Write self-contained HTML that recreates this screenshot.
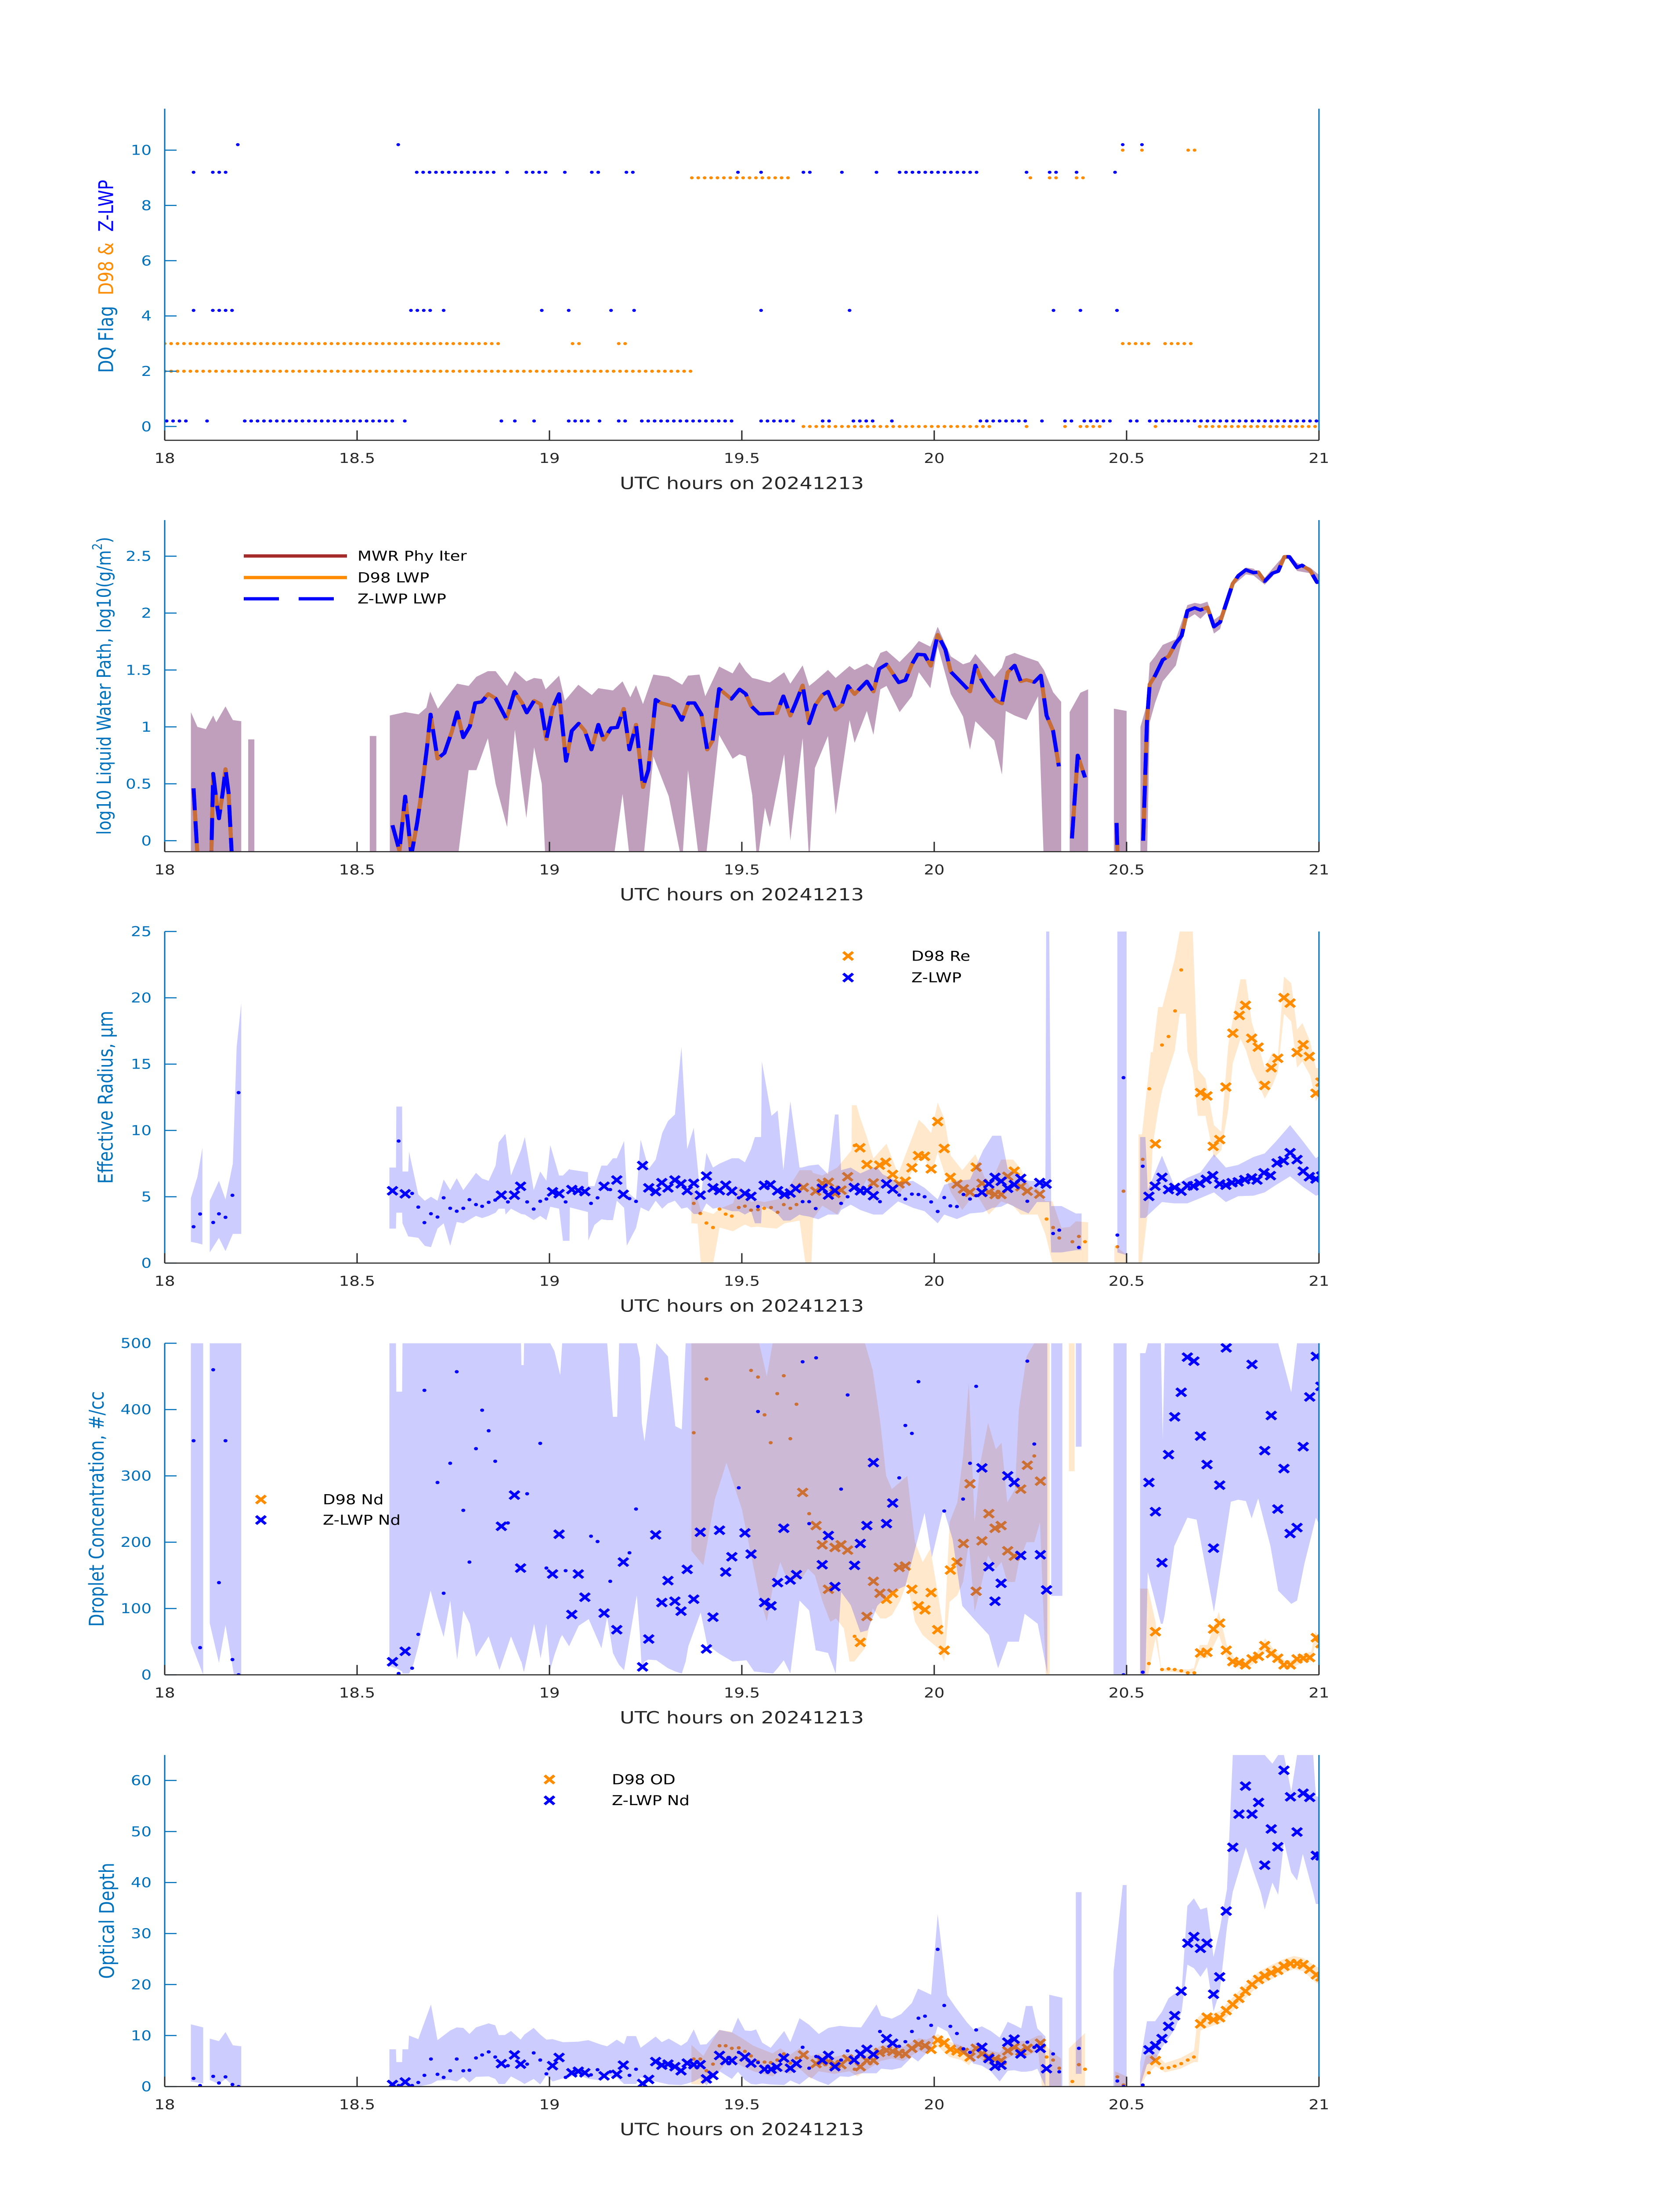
<!DOCTYPE html>
<html>
<head>
<meta charset="utf-8">
<style>
html,body{margin:0;padding:0;background:#fff;width:100%;height:100%;overflow:hidden}
svg{display:block;position:absolute;left:0;top:0;width:100vw;height:100vh}
text{font-family:"DejaVu Sans","Liberation Sans",sans-serif}
</style>
</head>
<body>
<svg id="chart" xmlns="http://www.w3.org/2000/svg" viewBox="0 0 3825 6000" preserveAspectRatio="none">
<rect width="3825" height="6000" fill="#ffffff"/>
<defs>
<clipPath id="clip0"><rect x="375" y="297" width="2628" height="906"/></clipPath>
<clipPath id="clip1"><rect x="375" y="1421" width="2628" height="906"/></clipPath>
<clipPath id="clip2"><rect x="375" y="2545" width="2628" height="906"/></clipPath>
<clipPath id="clip3"><rect x="375" y="3670" width="2628" height="906"/></clipPath>
<clipPath id="clip4"><rect x="375" y="4795" width="2628" height="906"/></clipPath>
</defs>
<g id="plots"></g>

<text x="241" y="755" transform="rotate(-90 241 755)" text-anchor="middle" dominant-baseline="central" font-size="46"><tspan fill="#0072bd">DQ Flag&#160;&#160;</tspan><tspan fill="#ff8c00">D98 &amp;&#160;&#160;</tspan><tspan fill="#0000ff">Z-LWP</tspan></text>
<text x="237" y="1874" transform="rotate(-90 237 1874)" text-anchor="middle" dominant-baseline="central" font-size="44" fill="#0072bd">log10 Liquid Water Path, log10(g/m<tspan font-size="30" dy="-16">2</tspan><tspan dy="16">)</tspan></text>
<text x="241" y="2998" transform="rotate(-90 241 2998)" text-anchor="middle" dominant-baseline="central" font-size="46" fill="#0072bd">Effective Radius, μm</text>
<text x="220" y="4123" transform="rotate(-90 220 4123)" text-anchor="middle" dominant-baseline="central" font-size="46" fill="#0072bd">Droplet Concentration, #/cc</text>
<text x="244" y="5248" transform="rotate(-90 244 5248)" text-anchor="middle" dominant-baseline="central" font-size="46" fill="#0072bd">Optical Depth</text>

<text x="1689" y="1336" text-anchor="middle" font-size="46" fill="#262626">UTC hours on 20241213</text>
<text x="1689" y="2460" text-anchor="middle" font-size="46" fill="#262626">UTC hours on 20241213</text>
<text x="1689" y="3584" text-anchor="middle" font-size="46" fill="#262626">UTC hours on 20241213</text>
<text x="1689" y="4709" text-anchor="middle" font-size="46" fill="#262626">UTC hours on 20241213</text>
<text x="1689" y="5834" text-anchor="middle" font-size="46" fill="#262626">UTC hours on 20241213</text>

<g>
<line x1="555" y1="1519" x2="790" y2="1519" stroke="#a52a2a" stroke-width="9"/>
<text x="814" y="1532" font-size="37" fill="#000">MWR Phy Iter</text>
<line x1="555" y1="1578" x2="790" y2="1578" stroke="#ff8c00" stroke-width="9"/>
<text x="814" y="1591" font-size="37" fill="#000">D98 LWP</text>
<line x1="555" y1="1636" x2="790" y2="1636" stroke="#0000ff" stroke-width="9" stroke-dasharray="80 45"/>
<text x="814" y="1649" font-size="37" fill="#000">Z-LWP LWP</text>
</g>
<g>
<path d="M1920,2601L1942,2623M1920,2623L1942,2601" stroke="#ff8c00" stroke-width="7"/>
<text x="2075" y="2625" font-size="37" fill="#000">D98 Re</text>
<path d="M1920,2660L1942,2682M1920,2682L1942,2660" stroke="#0000ff" stroke-width="7"/>
<text x="2075" y="2684" font-size="37" fill="#000">Z-LWP</text>
</g>
<g>
<path d="M583,4086L605,4108M583,4108L605,4086" stroke="#ff8c00" stroke-width="7"/>
<text x="735" y="4110" font-size="37" fill="#000">D98 Nd</text>
<path d="M583,4142L605,4164M583,4164L605,4142" stroke="#0000ff" stroke-width="7"/>
<text x="735" y="4166" font-size="37" fill="#000">Z-LWP Nd</text>
</g>
<g>
<path d="M1240,4851L1262,4873M1240,4873L1262,4851" stroke="#ff8c00" stroke-width="7"/>
<text x="1393" y="4875" font-size="37" fill="#000">D98 OD</text>
<path d="M1240,4908L1262,4930M1240,4930L1262,4908" stroke="#0000ff" stroke-width="7"/>
<text x="1393" y="4932" font-size="37" fill="#000">Z-LWP Nd</text>
</g>
<g id="axes"></g>
</svg>

<script>
const xTickValues = [18, 18.5, 19, 19.5, 20, 20.5, 21];
const xTickLabels = ['18', '18.5', '19', '19.5', '20', '20.5', '21'];
const dqTickValues = [0, 2, 4, 6, 8, 10];
const dqTickLabels = ['0', '2', '4', '6', '8', '10'];
const lwpTickValues = [0, 0.5, 1, 1.5, 2, 2.5];
const lwpTickLabels = ['0', '0.5', '1', '1.5', '2', '2.5'];
const reTickValues = [0, 5, 10, 15, 20, 25];
const reTickLabels = ['0', '5', '10', '15', '20', '25'];
const ndTickValues = [0, 100, 200, 300, 400, 500];
const ndTickLabels = ['0', '100', '200', '300', '400', '500'];
const odTickValues = [0, 10, 20, 30, 40, 50, 60];
const odTickLabels = ['0', '10', '20', '30', '40', '50', '60'];

const zlwpFlagRunStart = [18.005,18.11,18.208,18.624,18.875,18.91,18.96,19.05,19.13,19.18,19.24,19.55,19.71,19.79,19.89,20.12,20.28,20.34,20.39,20.51,20.56,
  18.075,18.125,18.64,18.725,18.98,19.05,19.16,19.22,19.55,19.78,20.31,20.38,20.475,
  18.075,18.125,18.655,18.89,18.94,19.04,19.11,19.2,19.49,19.55,19.66,19.76,19.85,19.91,20.24,20.3,20.37,20.47,
  18.19,18.607,20.49,20.54];
const zlwpFlagRunEnd = [18.055,18.11,18.592,18.624,18.875,18.925,18.97,19.10,19.14,19.20,19.48,19.64,19.74,19.84,19.90,20.24,20.28,20.36,20.46,20.53,21.0,
  18.09,18.19,18.69,18.725,18.99,19.05,19.16,19.22,19.55,19.78,20.325,20.38,20.49,
  18.09,18.16,18.86,18.89,19.0,19.04,19.13,19.23,19.49,19.55,19.69,19.77,19.85,20.11,20.25,20.33,20.37,20.47,
  18.19,18.607,20.49,20.54];
const zlwpFlagRunValue = [0,0,0,0,0,0,0,0,0,0,0,0,0,0,0,0,0,0,0,0,0,
  4,4,4,4,4,4,4,4,4,4,4,4,4,
  9,9,9,9,9,9,9,9,9,9,9,9,9,9,9,9,9,9,
  10,10,10,10];
const d98FlagRunStart = [18.0,19.06,19.18,20.49,20.60, 18.0, 19.37,20.25,20.30,20.37, 20.49,20.54,20.66, 19.66,20.24,20.34,20.38,20.575,20.69];
const d98FlagRunEnd   = [18.88,19.09,19.21,20.57,20.67, 19.37, 19.63,20.25,20.33,20.40, 20.49,20.54,20.68, 20.15,20.24,20.34,20.43,20.575,21.0];
const d98FlagRunValue = [3,3,3,3,3, 2, 9,9,9,9, 10,10,10, 0,0,0,0,0,0];

const lwpSeries = [
 [18.075,0.46],[18.088,-0.3],[18.12,-0.3],[18.126,0.59],[18.134,0.36],[18.141,0.195],[18.151,0.43],[18.158,0.63],[18.166,0.42],[18.177,-0.3],null,
 [18.592,0.136],[18.610,-0.088],[18.625,0.39],[18.641,-0.127],[18.656,0.156],[18.666,0.39],[18.681,0.80],[18.691,1.11],[18.709,0.72],[18.727,0.77],[18.746,0.956],[18.760,1.13],[18.776,0.907],[18.793,1.004],[18.807,1.21],[18.824,1.22],[18.841,1.29],[18.860,1.25],[18.888,1.07],[18.909,1.31],[18.929,1.21],[18.941,1.125],[18.960,1.23],[18.977,1.20],[18.992,0.89],[19.008,1.16],[19.025,1.29],[19.043,0.70],[19.058,0.965],[19.076,1.03],[19.092,0.965],[19.109,0.80],[19.127,1.02],[19.141,0.885],[19.160,0.99],[19.176,0.995],[19.193,1.16],[19.208,0.80],[19.225,1.02],[19.243,0.47],[19.257,0.62],[19.276,1.24],[19.290,1.21],[19.324,1.18],[19.344,1.06],[19.361,1.21],[19.377,1.21],[19.395,1.11],[19.410,0.80],[19.424,0.88],[19.441,1.335],[19.473,1.245],[19.494,1.33],[19.510,1.29],[19.524,1.185],[19.545,1.115],[19.591,1.12],[19.608,1.27],[19.626,1.098],[19.640,1.21],[19.658,1.365],[19.675,1.03],[19.691,1.19],[19.709,1.28],[19.724,1.31],[19.744,1.15],[19.760,1.193],[19.776,1.36],[19.793,1.287],[19.825,1.40],[19.842,1.31],[19.857,1.51],[19.876,1.55],[19.908,1.39],[19.925,1.41],[19.942,1.55],[19.957,1.637],[19.975,1.633],[19.991,1.536],[20.009,1.81],[20.029,1.68],[20.043,1.485],[20.075,1.374],[20.093,1.31],[20.107,1.54],[20.122,1.42],[20.140,1.325],[20.161,1.23],[20.176,1.205],[20.191,1.48],[20.209,1.54],[20.225,1.40],[20.240,1.413],[20.260,1.393],[20.277,1.452],[20.292,1.10],[20.309,0.965],[20.324,0.653],null,
 [20.358,0.02],[20.373,0.75],[20.392,0.556],null,
 [20.474,0.156],[20.478,-0.3],null,
 [20.543,0.0],[20.553,1.05],[20.560,1.374],[20.574,1.45],[20.594,1.589],[20.609,1.62],[20.628,1.735],[20.643,1.80],[20.658,2.02],[20.677,2.046],[20.692,2.027],[20.710,2.05],[20.727,1.88],[20.743,1.92],[20.759,2.086],[20.776,2.26],[20.791,2.33],[20.810,2.38],[20.830,2.355],[20.842,2.36],[20.859,2.28],[20.879,2.35],[20.894,2.368],[20.910,2.495],[20.923,2.495],[20.943,2.40],[20.956,2.42],[20.977,2.374],[20.995,2.27],[21.009,2.285]
];
const lwpBand = [
 [18.068,1.13,-0.2],[18.085,1.00,-0.2],[18.107,0.98,-0.2],[18.126,1.10,-0.2],[18.134,1.04,-0.2],[18.158,1.18,-0.2],[18.177,1.06,-0.2],[18.199,1.05,-0.2],null,
 [18.217,0.89,-0.2],[18.233,0.89,-0.2],null,
 [18.533,0.92,-0.2],[18.55,0.92,-0.2],null,
 [18.585,1.10,-0.2],[18.625,1.13,-0.2],[18.66,1.11,-0.2],[18.68,1.17,-0.2],[18.69,1.31,-0.2],[18.71,1.16,-0.2],[18.73,1.25,-0.2],[18.76,1.38,-0.2],[18.79,1.36,0.62],[18.81,1.44,0.62],[18.84,1.49,0.90],[18.86,1.49,0.50],[18.89,1.36,0.12],[18.91,1.49,0.975],[18.94,1.40,0.2],[18.96,1.43,0.82],[18.98,1.42,0.5],[18.99,1.33,-0.2],[19.025,1.45,-0.2],[19.04,1.23,-0.2],[19.075,1.37,-0.2],[19.11,1.28,-0.2],[19.127,1.34,-0.2],[19.165,1.32,-0.2],[19.19,1.40,0.41],[19.21,1.26,-0.2],[19.225,1.365,-0.2],[19.243,1.20,-0.2],[19.27,1.46,0.74],[19.31,1.44,0.39],[19.345,1.37,-0.2],[19.36,1.45,0.62],[19.39,1.46,-0.2],[19.405,1.27,-0.2],[19.441,1.53,0.93],[19.476,1.47,0.72],[19.494,1.57,0.76],[19.51,1.49,0.74],[19.527,1.43,0.4],[19.54,1.42,-0.2],[19.56,1.40,0.29],[19.573,1.39,0.12],[19.61,1.48,0.76],[19.626,1.38,0.0],[19.658,1.54,0.9],[19.675,1.36,-0.2],[19.69,1.40,0.64],[19.724,1.50,0.92],[19.744,1.43,0.23],[19.78,1.535,1.06],[19.793,1.50,0.86],[19.825,1.555,1.14],[19.842,1.52,0.93],[19.86,1.65,1.33],[19.876,1.67,1.36],[19.91,1.57,1.13],[19.942,1.68,1.27],[19.96,1.755,1.48],[19.99,1.705,1.34],[20.009,1.88,1.71],[20.043,1.62,1.29],[20.075,1.55,1.09],[20.093,1.57,0.8],[20.107,1.64,1.05],[20.156,1.44,0.88],[20.176,1.52,0.58],[20.186,1.62,1.14],[20.209,1.65,1.10],[20.24,1.61,1.06],[20.27,1.575,1.27],[20.285,1.50,-0.2],[20.309,1.305,-0.2],[20.33,1.22,-0.2],null,
 [20.352,1.13,-0.2],[20.38,1.30,-0.2],[20.40,1.33,-0.2],null,
 [20.467,1.16,-0.2],[20.50,1.14,-0.2],null,
 [20.536,1.0,-0.2],[20.553,1.2,-0.2],[20.560,1.56,1.04],[20.574,1.62,1.21],[20.594,1.72,1.40],[20.628,1.77,1.54],[20.658,2.07,1.95],[20.677,2.09,1.99],[20.692,2.08,1.95],[20.710,2.10,2.01],[20.727,1.94,1.82],[20.743,1.98,1.86],[20.759,2.10,2.07],[20.776,2.28,2.24],[20.810,2.40,2.34],[20.830,2.39,2.33],[20.859,2.31,2.25],[20.879,2.39,2.32],[20.910,2.51,2.475],[20.923,2.51,2.475],[20.943,2.44,2.37],[20.977,2.40,2.35],[21.009,2.31,2.26]
];

const zlwpReCross = [[18.592,5.45],[18.625,5.22],[18.875,5.12],[18.909,5.12],[18.925,5.79],[19.008,5.37],[19.025,5.23],[19.058,5.54],[19.075,5.47],[19.092,5.39],[19.142,5.79],[19.175,6.26],[19.192,5.18],[19.242,7.35],[19.258,5.67],[19.276,5.39],[19.292,6.06],[19.308,5.67],[19.326,6.26],[19.342,5.97],[19.358,5.47],[19.375,6.01],[19.392,5.12],[19.408,6.56],[19.425,5.67],[19.442,5.47],[19.458,5.87],[19.474,5.42],[19.508,5.25],[19.524,5.03],[19.558,5.85],[19.574,5.9],[19.593,5.45],[19.611,5.17],[19.626,5.28],[19.640,5.62],[19.709,5.64],[19.725,5.13],[19.742,5.47],[19.792,5.70],[19.808,5.45],[19.825,5.47],[19.842,5.08],[19.876,5.97],[19.892,5.57],[20.124,5.33],[20.142,5.97],[20.158,6.46],[20.174,6.17],[20.191,5.64],[20.208,5.92],[20.225,6.38],[20.274,6.07],[20.291,5.96],[20.558,5.03],[20.574,5.8],[20.592,6.46],[20.609,5.54],[20.625,5.7],[20.642,5.42],[20.658,5.84],[20.673,5.81],[20.690,6.01],[20.707,6.31],[20.724,6.59],[20.742,5.96],[20.758,5.87],[20.774,6.06],[20.790,6.12],[20.807,6.29],[20.825,6.42],[20.839,6.26],[20.857,6.81],[20.874,6.59],[20.891,7.55],[20.908,7.72],[20.925,8.32],[20.943,7.8],[20.959,6.93],[20.975,6.51],[20.992,6.34],[21.007,6.56]];
const zlwpReDot = [[18.075,2.74],[18.092,3.7],[18.126,3.06],[18.141,3.71],[18.158,3.45],[18.176,5.11],[18.192,12.85],[18.608,9.2],[18.643,5.25],[18.659,4.22],[18.675,3.05],[18.692,3.72],[18.709,3.47],[18.725,4.92],[18.742,4.13],[18.759,3.91],[18.776,4.13],[18.792,4.78],[18.809,4.41],[18.825,4.28],[18.842,4.58],[18.859,4.75],[18.892,4.61],[18.942,4.61],[18.959,4.07],[18.976,4.66],[18.992,4.83],[19.042,4.61],[19.108,4.50],[19.125,4.92],[19.158,5.54],[19.208,4.86],[19.225,4.65],[19.492,4.92],[19.542,4.26],[19.658,4.63],[19.675,4.63],[19.692,4.11],[19.758,4.50],[19.775,5.0],[19.859,4.63],[19.909,5.13],[19.925,4.82],[19.942,5.20],[19.959,5.17],[19.975,5.00],[19.992,4.61],[20.009,3.89],[20.026,4.94],[20.042,4.31],[20.059,4.26],[20.076,5.17],[20.093,4.83],[20.109,5.08],[20.242,4.66],[20.309,2.23],[20.325,2.48],[20.376,1.18],[20.476,2.11],[20.492,13.98],[20.542,7.3]];
const d98ReCross = [[19.660,5.70],[19.692,5.42],[19.709,6.01],[19.725,6.09],[19.742,5.25],[19.758,5.5],[19.775,6.51],[19.807,8.69],[19.825,7.43],[19.842,6.04],[19.858,7.38],[19.874,7.6],[19.892,6.68],[19.909,5.97],[19.925,6.17],[19.942,7.18],[19.959,8.1],[19.975,8.05],[19.992,7.1],[20.009,10.67],[20.026,8.64],[20.042,6.46],[20.059,5.96],[20.076,5.59],[20.093,5.34],[20.109,7.23],[20.124,6.01],[20.142,5.34],[20.158,5.17],[20.174,5.17],[20.191,6.54],[20.208,6.93],[20.225,5.76],[20.242,5.42],[20.274,5.2],[20.575,8.99],[20.692,12.85],[20.709,12.6],[20.725,8.8],[20.742,9.31],[20.758,13.27],[20.776,17.33],[20.793,18.67],[20.809,19.43],[20.825,16.95],[20.842,16.28],[20.859,13.39],[20.876,14.73],[20.893,15.44],[20.909,20.01],[20.925,19.6],[20.943,15.87],[20.959,16.46],[20.975,15.57],[20.992,12.80],[21.005,13.64]];
const d98ReDot = [[19.375,4.5],[19.392,3.74],[19.408,3.02],[19.425,2.68],[19.442,4.07],[19.458,3.69],[19.474,3.54],[19.492,4.19],[19.508,4.29],[19.524,3.99],[19.542,4.03],[19.558,4.13],[19.576,4.19],[19.593,3.83],[19.609,4.41],[19.626,4.13],[19.642,4.41],[19.793,8.86],[20.292,3.32],[20.309,2.68],[20.325,1.89],[20.359,1.61],[20.376,2.01],[20.392,1.61],[20.476,1.23],[20.492,5.42],[20.542,7.82],[20.559,13.14],[20.592,16.44],[20.609,17.08],[20.626,19.01],[20.642,22.1]];
const zlwpReBand = [
 [18.068,4.9,1.6],[18.085,6.5,1.5],[18.098,8.7,1.4],null,
 [18.117,4.7,0.8],[18.141,6.2,1.9],[18.158,4.8,0.9],[18.177,7.5,2.2],[18.187,16.3,2.2],[18.199,19.6,2.2],null,
 [18.584,7.2,2.6],[18.601,7.2,2.6],[18.602,11.8,3.8],[18.617,11.8,3.8],[18.618,6.9,3.0],[18.633,6.9,2.0],[18.635,8.4,2.0],[18.659,5.17,1.9],[18.676,4.7,1.3],[18.692,5.0,1.2],[18.709,4.7,2.6],[18.725,6.3,3.0],[18.742,5.5,1.3],[18.759,6.4,3.1],[18.776,5.5,3.0],[18.809,6.8,3.56],[18.825,6.37,3.39],[18.842,6.2,3.56],[18.860,7.35,3.8],[18.868,9.1,4.1],[18.884,9.7,4.1],[18.886,9.7,3.66],[18.900,6.6,4.1],[18.927,8.6,3.69],[18.936,9.5,3.66],[18.959,5.5,3.24],[18.976,6.9,3.56],[18.992,6.2,3.24],[19.002,8.9,4.25],[19.025,6.6,4.1],[19.035,6.6,1.68],[19.052,7.1,1.68],[19.053,7.05,4.2],[19.100,6.85,3.85],[19.101,5.8,1.7],[19.117,5.8,2.88],[19.135,7.35,3.3],[19.150,7.35,3.24],[19.165,7.9,3.24],[19.175,7.9,4.7],[19.194,9.2,4.16],[19.201,5.4,1.31],[19.225,4.8,2.65],[19.237,9.3,4.2],[19.258,7.1,3.9],[19.276,7.8,4.7],[19.293,9.8,4.1],[19.308,10.7,4.5],[19.326,11.2,4.7],[19.343,16.3,4.1],[19.358,8.6,4.2],[19.375,10.2,3.7],[19.393,4.9,3.7],[19.408,8.3,4.5],[19.425,7.2,4.1],[19.442,7.5,4.2],[19.474,7.9,3.91],[19.492,7.9,3.91],[19.508,7.6,3.66],[19.524,8.6,3.91],[19.534,9.5,3.0],[19.550,9.5,3.0],[19.552,15.2,4.3],[19.577,11.1,4.0],[19.593,11.5,3.7],[19.608,7.0,3.2],[19.626,12.2,3.2],[19.650,7.2,3.66],[19.655,7.2,3.6],[19.675,7.35,3.5],[19.699,7.43,3.3],[19.724,6.7,3.66],[19.742,11.2,3.66],[19.751,11.2,3.66],[19.758,7.0,4.0],[19.783,7.2,4.4],[19.808,6.76,4.0],[19.842,7.2,3.66],[19.852,7.2,3.66],[19.866,6.7,3.66],[19.906,6.1,4.65],[19.945,6.2,4.16],[19.975,5.67,3.91],[20.009,4.8,3.0],[20.026,5.9,3.66],[20.059,6.2,3.32],[20.093,6.3,3.74],[20.127,8.5,3.83],[20.151,9.6,4.16],[20.174,9.6,4.25],[20.191,7.1,4.5],[20.225,6.5,4.0],[20.245,6.2,3.74],[20.267,6.2,4.6],[20.289,6.2,4.6],[20.291,25,4.6],[20.299,25,4.6],[20.304,4.3,0.8],[20.331,4.3,0.8],[20.368,3.74,0.97],[20.383,3.74,0.97],null,
 [20.476,25,0.8],[20.500,25,0.6],null,
 [20.535,9.5,3.4],[20.549,9.5,3.4],[20.555,5.5,3.6],[20.592,8.1,4.6],[20.624,5.84,4.5],[20.658,6.43,4.5],[20.692,6.84,4.9],[20.727,8.2,5.33],[20.758,7.2,4.6],[20.790,7.4,5.04],[20.830,8.0,5.08],[20.859,8.27,5.33],[20.889,9.2,5.9],[20.925,10.4,6.54],[20.958,9.2,5.76],[20.992,7.9,5.08],[21.009,8.27,5.24]
];
const d98ReBand = [
 [19.369,5.73,3.0],[19.385,4.8,2.97],[19.393,4.0,0.05],[19.426,3.7,0.05],[19.442,4.1,2.68],[19.477,4.5,2.4],[19.492,5.8,2.65],[19.508,5.4,2.9],[19.524,4.6,2.70],[19.542,4.7,2.74],[19.558,4.6,2.68],[19.591,4.8,2.6],[19.611,5.2,3.0],[19.650,7.0,3.2],[19.665,7.0,0.05],[19.681,7.0,0.05],[19.685,6.8,3.32],[19.709,6.6,4.33],[19.748,7.2,3.66],[19.785,8.5,5.67],[19.786,11.9,5.67],[19.798,11.9,5.67],[19.807,11.0,5.33],[19.825,9.5,6.34],[19.842,7.9,4.65],[19.876,9.0,6.34],[19.906,6.7,5.0],[19.960,10.8,7.84],[19.975,10.4,8.0],[19.992,9.8,6.67],[20.009,12.1,8.35],[20.026,10.9,6.84],[20.043,8.1,5.34],[20.073,7.0,4.0],[20.107,8.2,5.33],[20.142,5.67,3.66],[20.174,7.8,4.65],[20.205,7.8,4.33],[20.225,7.1,3.66],[20.250,5.67,3.66],[20.269,5.67,3.66],[20.289,4.67,2.16],[20.307,4.67,0.05],[20.331,2.65,0.05],[20.353,2.73,0.05],[20.368,3.15,0.05],[20.400,3.07,0.05],null,
 [20.468,1.31,0.05],[20.500,0.64,0.05],null,
 [20.531,9.7,0.05],[20.540,9.7,0.05],[20.563,15.9,5.8],[20.568,15.9,8.9],[20.582,19.3,11.5],[20.593,19.3,13.1],[20.625,22.9,16.0],[20.638,25,18.8],[20.654,25,18.8],[20.658,25,16.0],[20.672,25,14.6],[20.685,14.6,11.1],[20.705,13.9,11.1],[20.727,10.4,7.93],[20.746,9.9,8.5],[20.764,16.4,11.54],[20.776,18.4,15.07],[20.796,21.4,16.9],[20.810,21.4,16.06],[20.825,18.2,14.6],[20.840,16.7,13.7],[20.859,14.7,12.4],[20.879,15.87,13.4],[20.893,15.6,14.4],[20.909,21.6,18.8],[20.928,21.1,18.2],[20.943,17.6,14.73],[20.957,18.1,15.2],[20.977,16.7,14.15],[20.992,14.7,12.2],[21.009,14.7,13.0]
];

const zlwpNdCross = [[18.592,19.7],[18.625,35.5],[18.875,224],[18.909,271],[18.925,161],[19.008,152],[19.025,212],[19.058,91],[19.075,152],[19.092,117],[19.142,93],[19.175,68],[19.192,170],[19.242,12],[19.258,54],[19.276,211],[19.292,109],[19.308,142],[19.326,111],[19.342,96],[19.358,159],[19.375,114],[19.392,215],[19.408,39],[19.425,87],[19.442,218],[19.458,155],[19.474,178],[19.508,214],[19.524,182],[19.559,109],[19.576,104],[19.593,139],[19.609,221],[19.626,143],[19.642,151],[19.709,166],[19.725,210],[19.742,133],[19.793,165],[19.808,198],[19.825,225],[19.842,320],[19.876,228],[19.892,259],[20.124,312],[20.142,163],[20.158,111],[20.174,138],[20.191,300],[20.208,290],[20.225,180],[20.276,181],[20.292,128],[20.558,290],[20.575,246],[20.592,169],[20.609,332],[20.625,389],[20.642,426],[20.658,479],[20.675,473],[20.692,360],[20.709,317],[20.726,191],[20.742,286],[20.759,493],[20.826,468],[20.859,338],[20.876,391],[20.893,250],[20.909,311],[20.925,213],[20.943,222],[20.959,344],[20.976,419],[20.993,480],[21.005,435]];
const zlwpNdDot = [[18.075,353],[18.092,41],[18.126,460],[18.141,139],[18.158,353],[18.176,23],[18.192,0],[18.608,2],[18.643,10],[18.659,61],[18.675,429],[18.709,290],[18.725,123],[18.742,319],[18.759,457],[18.776,248],[18.792,170],[18.809,341],[18.825,399],[18.842,368],[18.859,322],[18.892,229],[18.942,273],[18.976,349],[18.992,161],[19.042,157],[19.108,209],[19.125,201],[19.158,141],[19.208,184],[19.225,250],[19.492,282],[19.542,397],[19.658,472],[19.675,228],[19.693,478],[19.758,280],[19.775,422],[19.909,297],[19.925,376],[19.942,364],[19.959,442],[19.976,505],[20.026,247],[20.075,265],[20.093,319],[20.109,435],[20.242,473],[20.260,348],[20.492,0],[20.542,4]];
const d98NdCross = [[19.658,275],[19.693,225],[19.709,196],[19.725,129],[19.742,192],[19.758,196],[19.775,188],[19.808,49],[19.825,88],[19.842,141],[19.859,123],[19.876,114],[19.892,123],[19.909,162],[19.925,164],[19.942,129],[19.959,104],[19.976,98],[19.992,124],[20.009,68],[20.026,37],[20.042,158],[20.059,170],[20.076,198],[20.093,288],[20.109,126],[20.124,202],[20.142,243],[20.158,221],[20.174,225],[20.191,187],[20.208,179],[20.225,280],[20.242,316],[20.276,292],[20.575,65],[20.692,33],[20.709,34],[20.726,69],[20.742,78],[20.759,37],[20.776,20],[20.792,18],[20.809,15],[20.826,24],[20.843,28],[20.859,44],[20.876,32],[20.893,25],[20.909,15],[20.926,15],[20.943,24],[20.959,25],[20.976,26],[20.993,56],[21.005,47]];
const d98NdDot = [[19.375,365],[19.408,446],[19.524,459],[19.542,449],[19.559,392],[19.575,350],[19.592,424],[19.609,451],[19.626,356],[19.642,408],[19.675,243],[19.793,58],[20.260,330],[20.558,17],[20.592,8],[20.609,9],[20.625,8],[20.642,6],[20.659,3],[20.676,3]];
const zlwpNdBand = [
 [18.068,500,48],[18.100,500,0],null,
 [18.117,500,78],[18.141,500,18],[18.158,500,75],[18.180,500,0],[18.199,500,0],null,
 [18.584,500,13],[18.601,500,10],[18.602,427,10],[18.617,427,5],[18.618,500,2],[18.635,500,2],[18.646,500,15],[18.659,500,43],[18.691,500,127],[18.709,500,87],[18.725,500,57],[18.742,500,112],[18.760,500,23],[18.776,500,97],[18.793,500,77],[18.809,500,27],[18.842,500,58],[18.870,500,7],[18.900,500,58],[18.926,500,20],[18.927,467,20],[18.933,467,5],[18.934,500,5],[18.960,500,77],[18.977,500,25],[18.992,500,77],[19.002,500,8],[19.013,488,30],[19.028,452,55],[19.033,500,60],[19.051,500,43],[19.076,500,74],[19.102,500,84],[19.135,500,40],[19.150,500,87],[19.165,389,33],[19.176,389,20],[19.181,500,15],[19.194,500,7],[19.227,500,120],[19.235,478,60],[19.240,380,7],[19.247,352,20],[19.257,400,23],[19.278,500,22],[19.308,480,10],[19.327,375,5],[19.344,370,2],[19.354,500,20],[19.361,500,43],[19.393,500,94],[19.410,500,45],[19.441,500,32],[19.476,500,20],[19.512,500,22],[19.532,500,5],[19.581,500,2],[19.593,500,10],[19.609,500,22],[19.626,500,2],[19.650,500,112],[19.675,500,97],[19.692,500,37],[19.724,500,33],[19.744,500,2],[19.758,500,125],[19.783,500,105],[19.808,500,64],[19.827,500,67],[19.852,500,104],[19.886,500,124],[19.925,500,134],[19.975,500,244],[19.994,500,177],[20.024,500,251],[20.048,500,204],[20.073,500,104],[20.102,500,85],[20.142,500,60],[20.166,500,10],[20.191,500,50],[20.220,500,50],[20.235,500,92],[20.269,500,77],[20.294,500,2],null,
 [20.304,500,119],[20.333,500,119],null,
 [20.368,500,344],[20.383,500,344],null,
 [20.466,500,0],[20.500,500,0],null,
 [20.535,485,0],[20.549,485,0],[20.555,500,155],[20.589,500,77],[20.594,355,77],[20.599,500,90],[20.624,500,194],[20.658,500,237],[20.682,500,234],[20.707,500,157],[20.727,500,95],[20.771,500,261],[20.790,500,264],[20.810,500,262],[20.825,500,236],[20.842,500,266],[20.874,500,194],[20.894,500,127],[20.928,426,107],[20.943,500,112],[20.962,500,167],[20.992,500,237],[21.009,500,217]
];
const d98NdBand = [
 [19.369,500,187],[19.40,500,165],[19.43,500,265],[19.46,500,320],[19.50,500,250],[19.545,500,120],[19.565,450,80],[19.58,500,130],[19.60,500,170],[19.62,500,140],[19.655,500,145],[19.672,500,160],[19.69,500,150],[19.71,500,110],[19.73,500,80],[19.745,500,85],[19.765,500,70],[19.78,500,20],[19.792,500,20],[19.82,500,40],[19.84,460,100],[19.86,380,85],[19.875,300,85],[19.89,280,90],[19.91,290,110],[19.93,300,140],[19.95,200,80],[19.97,170,60],[19.99,190,50],[20.01,120,40],[20.026,60,20],[20.04,230,110],[20.06,260,120],[20.075,330,140],[20.09,440,200],[20.105,230,95],[20.12,320,130],[20.14,380,180],[20.16,340,160],[20.175,350,170],[20.19,260,140],[20.21,280,140],[20.22,400,170],[20.24,480,200],[20.26,500,200],[20.275,500,230],[20.29,500,0],[20.30,500,0],null,
 [20.35,500,307],[20.365,500,307],null,
 [20.535,130,0],[20.556,130,0],[20.575,80,55],[20.59,10,6],[20.66,8,2],[20.675,10,2],[20.69,45,25],[20.71,45,25],[20.74,95,60],[20.76,45,25],[20.78,25,12],[20.81,22,10],[20.84,35,20],[20.86,55,35],[20.88,40,25],[20.91,22,10],[20.93,22,10],[20.96,32,20],[20.98,35,20],[20.99,65,45],[21.005,55,40]
];

const zlwpOdCross = [[18.592,0.4],[18.625,0.9],[18.875,4.5],[18.909,6.2],[18.925,4.4],[19.008,4.1],[19.025,5.7],[19.058,2.7],[19.075,3.0],[19.092,2.7],[19.142,2.1],[19.175,2.4],[19.192,4.2],[19.242,0.6],[19.258,1.4],[19.276,4.9],[19.292,4.2],[19.308,4.4],[19.326,3.9],[19.342,3.1],[19.358,4.6],[19.375,4.3],[19.392,4.3],[19.408,1.5],[19.425,2.2],[19.442,6.1],[19.458,5.1],[19.474,5.1],[19.508,5.8],[19.524,4.6],[19.559,3.4],[19.576,3.4],[19.591,3.8],[19.609,5.6],[19.626,3.6],[19.642,4.5],[19.709,5.2],[19.725,6.1],[19.742,3.9],[19.792,5.2],[19.808,6.4],[19.825,7.3],[19.842,6.3],[19.876,9.4],[19.892,8.5],[20.124,7.7],[20.142,5.5],[20.158,4.0],[20.174,4.2],[20.191,8.7],[20.208,9.3],[20.225,6.4],[20.276,7.5],[20.292,3.5],[20.558,7.2],[20.575,8.0],[20.592,9.4],[20.609,11.8],[20.625,13.9],[20.642,18.7],[20.659,28.1],[20.675,29.4],[20.692,27.1],[20.709,28.1],[20.726,18.1],[20.742,21.5],[20.759,34.4],[20.776,46.9],[20.792,53.4],[20.809,58.9],[20.826,53.4],[20.843,55.7],[20.859,43.4],[20.876,50.5],[20.893,47.0],[20.909,62.0],[20.926,56.8],[20.943,49.9],[20.959,57.5],[20.976,56.7],[20.993,45.3],[21.005,45.2]];
const zlwpOdDot = [[18.075,1.6],[18.092,0.2],[18.126,2.0],[18.141,0.7],[18.158,1.9],[18.176,0.4],[18.192,0],[18.608,0.2],[18.643,0.2],[18.659,0.8],[18.675,2.2],[18.692,5.4],[18.709,2.4],[18.725,1.8],[18.742,3.1],[18.759,5.4],[18.776,3.1],[18.792,3.2],[18.809,5.6],[18.825,6.2],[18.842,6.8],[18.859,5.8],[18.892,4.1],[18.942,4.4],[18.959,6.6],[18.976,5.2],[18.992,2.5],[19.042,1.8],[19.108,2.3],[19.125,3.3],[19.158,2.9],[19.208,2.2],[19.225,3.4],[19.492,6.7],[19.542,4.7],[19.658,7.7],[19.675,3.6],[19.693,5.9],[19.758,5.2],[19.775,7.0],[19.859,10.8],[19.909,7.9],[19.925,8.8],[19.942,10.8],[19.959,13.4],[19.976,13.8],[19.992,12.0],[20.009,26.9],[20.026,15.9],[20.042,11.8],[20.059,10.4],[20.076,7.4],[20.093,6.7],[20.109,11.1],[20.242,8.7],[20.260,7.7],[20.309,6.4],[20.325,2.9],[20.376,7.5],[20.476,1.1],[20.492,0],[20.542,0.3]];
const d98OdCross = [[19.660,6.2],[19.693,4.5],[19.709,4.9],[19.725,4.9],[19.742,4.3],[19.758,4.3],[19.775,5.4],[19.808,3.9],[19.825,5.1],[19.842,5.1],[19.858,6.7],[19.876,7.1],[19.892,6.9],[19.909,6.5],[19.925,6.4],[19.942,7.5],[19.959,8.3],[19.976,8.0],[19.992,7.3],[20.009,9.1],[20.026,8.6],[20.042,7.3],[20.059,7.0],[20.076,6.7],[20.093,5.8],[20.109,7.5],[20.124,6.4],[20.142,5.8],[20.158,5.4],[20.174,5.1],[20.191,7.0],[20.208,7.7],[20.225,6.9],[20.242,7.5],[20.276,8.5],[20.575,5.1],[20.692,12.3],[20.709,13.6],[20.726,13.1],[20.742,13.5],[20.759,14.9],[20.776,16.1],[20.792,17.3],[20.809,18.7],[20.826,20.0],[20.843,21.0],[20.859,21.7],[20.876,22.3],[20.893,22.8],[20.909,23.6],[20.926,24.1],[20.943,24.1],[20.959,23.9],[20.976,23.0],[20.993,21.9],[21.005,21.5]];
const d98OdDot = [[19.375,5.4],[19.392,5.4],[19.408,3.1],[19.425,4.4],[19.442,8.0],[19.458,8.0],[19.474,7.5],[19.492,7.6],[19.508,6.9],[19.524,6.0],[19.542,4.9],[19.559,4.8],[19.575,4.7],[19.592,5.2],[19.609,6.4],[19.626,4.6],[19.642,5.6],[19.675,3.6],[19.793,3.4],[20.260,7.7],[20.292,5.8],[20.309,5.2],[20.325,3.6],[20.359,1.0],[20.376,4.3],[20.392,3.4],[20.476,1.9],[20.492,0.3],[20.558,2.7],[20.592,3.6],[20.609,3.7],[20.625,4.0],[20.642,4.5],[20.659,5.2],[20.675,5.8]];
const zlwpOdBand = [
 [18.068,12.2,1.0],[18.100,11.6,0.6],null,
 [18.117,9.4,1.3],[18.141,8.9,0.5],[18.158,10.7,1.5],[18.177,8.1,0.2],[18.199,7.9,0],null,
 [18.584,7.3,0],[18.601,7.3,0],[18.602,4.8,0],[18.617,4.8,0],[18.618,7.3,0],[18.633,7.3,0],[18.635,10.0,0],[18.659,9.3,0],[18.692,16.1,0.5],[18.709,9.1,1.2],[18.742,11.0,1.3],[18.759,11.6,1.0],[18.776,11.5,1.9],[18.792,10.3,0.8],[18.809,11.6,1.9],[18.842,12.4,2.0],[18.859,12.0,1.5],[18.868,10.1,0.5],[18.884,10.1,0.5],[18.900,10.9,2.0],[18.925,9.2,1.0],[18.935,10.2,0.5],[18.959,11.5,1.5],[18.976,10.2,0.4],[18.992,9.2,2.2],[19.008,9.3,1.0],[19.035,8.7,1.6],[19.075,8.8,2.3],[19.101,9.1,1.5],[19.135,8.2,1.2],[19.150,7.9,2.1],[19.175,9.2,1.8],[19.194,8.3,0.5],[19.201,9.9,0.5],[19.225,9.9,0.5],[19.237,7.6,1.8],[19.276,9.8,1.0],[19.292,8.7,0.7],[19.310,9.4,0.4],[19.342,8.0,0.3],[19.358,8.8,0.6],[19.375,11.2,1.0],[19.392,8.2,1.7],[19.408,8.3,0.2],[19.442,11.1,3.0],[19.474,10.6,1.5],[19.490,13.5,2.9],[19.508,11.0,1.3],[19.524,10.9,0.5],[19.537,11.2,0.4],[19.553,8.6,0.6],[19.575,7.6,0.4],[19.610,10.9,0.3],[19.626,8.7,1.2],[19.650,13.4,0.4],[19.675,12.1,1.9],[19.700,10.3,1.0],[19.725,11.5,0.3],[19.755,11.9,2.0],[19.778,11.7,1.9],[19.810,11.6,2.6],[19.850,16.1,2.6],[19.862,13.9,3.5],[19.890,13.3,3.3],[19.914,14.2,3.7],[19.942,16.4,5.8],[19.958,19.2,4.9],[19.992,18.0,7.5],[20.009,33.8,11.8],[20.034,17.9,10.8],[20.056,15.5,7.6],[20.085,12.6,6.0],[20.102,11.2,4.5],[20.124,11.8,4.1],[20.147,10.9,3.0],[20.170,9.6,1.0],[20.191,12.7,3.1],[20.208,12.1,3.2],[20.226,11.4,2.9],[20.238,15.8,2.9],[20.255,15.8,3.1],[20.268,11.4,3.5],[20.289,9.8,0],null,
 [20.299,18.0,0],[20.333,17.4,0],null,
 [20.368,38.1,2.5],[20.383,38.1,2.5],null,
 [20.466,22.5,0],[20.490,39.5,0],[20.500,39.5,0],null,
 [20.535,4.7,0],[20.553,12.8,4.3],[20.574,12.8,5.1],[20.592,14.7,7.7],[20.609,17.3,9.5],[20.625,18.2,11.2],[20.643,18.6,14.7],[20.658,35.4,23.9],[20.675,36.9,23.2],[20.692,34.7,21.5],[20.709,35.1,23.4],[20.726,25.4,14.7],[20.742,30.8,18.6],[20.761,38.7,31.3],[20.776,65,38.2],[20.790,65,41.7],[20.810,65,46.9],[20.828,65,42.6],[20.849,65,38],[20.859,65,34.7],[20.879,63.3,40],[20.894,65,37.6],[20.909,65,48],[20.928,57.8,42],[20.943,65,40.4],[20.958,65,45.6],[20.985,65,38],[20.992,56.9,35.8],[21.009,56.7,35.8]
];
const d98OdBand = [
 [19.369,8.2,0.5],[19.40,6.0,0.3],[19.44,11.1,3.0],[19.47,10.8,5.5],[19.50,9.5,4.0],[19.53,8.0,3.0],[19.58,6.5,2.0],[19.60,7.5,3.0],[19.625,6.2,2.5],[19.65,7.5,3.5],[19.68,6.0,1.5],[19.70,6.5,3.0],[19.74,5.8,2.5],[19.78,6.5,3.0],[19.80,5.5,2.0],[19.83,6.5,3.5],[19.86,8.0,5.0],[19.89,8.3,5.5],[19.92,7.8,5.0],[19.96,9.5,7.0],[19.98,9.2,6.5],[20.01,10.3,7.8],[20.04,8.8,5.8],[20.07,8.0,5.2],[20.09,7.3,4.2],[20.11,8.8,6.0],[20.14,7.2,4.3],[20.17,6.6,3.6],[20.19,8.5,5.5],[20.21,9.0,6.3],[20.24,8.9,6.0],[20.27,10.0,7.0],[20.28,10.0,0],[20.29,8.0,0],[20.32,6.0,0],[20.33,5.5,0],null,
 [20.35,7.5,0],[20.392,10.5,0],null,
 [20.47,3.0,0],[20.50,2.0,0],null,
 [20.535,1.5,0],[20.55,6.0,2.0],[20.575,6.5,4.0],[20.60,4.6,2.8],[20.64,5.6,3.5],[20.675,7.0,4.8],[20.685,13.5,4.8],[20.692,14.0,11.0],[20.726,14.4,12.0],[20.742,14.8,12.3],[20.776,17.5,14.8],[20.809,20.0,17.3],[20.843,22.5,19.8],[20.876,23.8,21.0],[20.909,25.0,22.3],[20.935,25.6,23.0],[20.959,25.2,22.6],[20.993,23.5,20.3],[21.009,23.0,19.8]
];

const NS = 'http://www.w3.org/2000/svg';
const plots = document.getElementById('plots');
const axesG = document.getElementById('axes');
const X0 = 375, X1 = 3003, PH = 906;
const panelTops = [297, 1421, 2545, 3670, 4795];
const panelLims = [[-0.5, 11.5], [-0.0965, 2.817], [0, 25], [0, 500], [0, 65]];
const BLUE = '#0000ff', ORANGE = '#ff8c00', AXBLUE = '#0072bd', DARK = '#262626';

function sx(h) { return X0 + (h - 18) / 3 * (X1 - X0); }
function yScale(p) {
  const lo = panelLims[p][0], hi = panelLims[p][1], top = panelTops[p];
  return function (v) { return top + PH - (v - lo) / (hi - lo) * PH; };
}
function mk(tag, attrs, parent) {
  const e = document.createElementNS(NS, tag);
  for (const k in attrs) e.setAttribute(k, attrs[k]);
  parent.appendChild(e);
  return e;
}
function segments(data) {
  const segs = []; let cur = [];
  for (const d of data) { if (d === null) { if (cur.length) segs.push(cur); cur = []; } else cur.push(d); }
  if (cur.length) segs.push(cur);
  return segs;
}
function bandD(data, sy) {
  return segments(data).map(s =>
    'M' + s.map(d => sx(d[0]).toFixed(1) + ',' + sy(d[1]).toFixed(1)).join('L') +
    'L' + s.slice().reverse().map(d => sx(d[0]).toFixed(1) + ',' + sy(d[2]).toFixed(1)).join('L') + 'Z').join('');
}
function lineD(data, sy) {
  return segments(data).map(s => 'M' + s.map(d => sx(d[0]).toFixed(1) + ',' + sy(d[1]).toFixed(1)).join('L')).join('');
}
function panelGroup(p, name) {
  const g = mk('g', { 'clip-path': 'url(#clip' + p + ')' }, plots);
  
  
  return g;
}
function drawBand(g, data, sy, fill, opacity, name) {
  const b = mk('path', { d: bandD(data, sy), fill: fill, 'fill-opacity': opacity, stroke: 'none' }, g);
  
  
}
function drawCrosses(g, data, sy, color, name) {
  for (const d of data) {
    const x = sx(d[0]), y = sy(d[1]), a = 11;
    const c = mk('path', { d: `M${x - a},${y - a}L${x + a},${y + a}M${x - a},${y + a}L${x + a},${y - a}`, stroke: color, 'stroke-width': 7, fill: 'none' }, g);
    
    
  }
}
function drawDots(g, data, sy, color, name) {
  for (const d of data) {
    const c = mk('circle', { cx: sx(d[0]).toFixed(1), cy: sy(d[1]).toFixed(1), r: 4.5, fill: color }, g);
    
    
  }
}
function drawAxes(p, tickVals, tickLabs) {
  const sy = yScale(p), top = panelTops[p], bot = top + PH;
  const g = mk('g', {}, axesG);
  
  
  const la = mk('line', { x1: X0, y1: top, x2: X0, y2: bot, stroke: AXBLUE, 'stroke-width': 3 }, g);
  
  
  const ra = mk('line', { x1: X1, y1: top, x2: X1, y2: bot, stroke: AXBLUE, 'stroke-width': 3 }, g);
  
  
  for (let i = 0; i < tickVals.length; i++) {
    const y = sy(tickVals[i]);
    const t = mk('line', { x1: X0, y1: y, x2: X0 + 27, y2: y, stroke: AXBLUE, 'stroke-width': 3 }, g);
    
    
    const l = mk('text', { x: 345, y: y + 13, 'text-anchor': 'end', 'font-size': 37, fill: AXBLUE }, g);
    
    
    l.textContent = tickLabs[i];
  }
  const ba = mk('line', { x1: X0, y1: bot, x2: X1, y2: bot, stroke: DARK, 'stroke-width': 3 }, g);
  
  
  for (let i = 0; i < xTickValues.length; i++) {
    const x = sx(xTickValues[i]);
    const t = mk('line', { x1: x, y1: bot, x2: x, y2: bot - 27, stroke: DARK, 'stroke-width': 3 }, g);
    
    
    const l = mk('text', { x: x, y: bot + 62, 'text-anchor': 'middle', 'font-size': 37, fill: DARK }, g);
    
    
    l.textContent = xTickLabels[i];
  }
}

(function () {
  const sy = yScale(0);
  const g = panelGroup(0, 'dq-flag-panel');
  for (let i = 0; i < d98FlagRunStart.length; i++) {
    for (let t = d98FlagRunStart[i]; t <= d98FlagRunEnd[i] + 1e-6; t += 1 / 60) {
      const c = mk('circle', { cx: sx(t).toFixed(1), cy: sy(d98FlagRunValue[i]).toFixed(1), r: 4.2, fill: ORANGE }, g);
      
      
    }
  }
  for (let i = 0; i < zlwpFlagRunStart.length; i++) {
    for (let t = zlwpFlagRunStart[i]; t <= zlwpFlagRunEnd[i] + 1e-6; t += 1 / 60) {
      const c = mk('circle', { cx: sx(t).toFixed(1), cy: sy(zlwpFlagRunValue[i] + 0.2).toFixed(1), r: 4.2, fill: BLUE }, g);
      
      
    }
  }
  drawAxes(0, dqTickValues, dqTickLabels);
})();

(function () {
  const sy = yScale(1);
  const g = panelGroup(1, 'lwp-panel');
  drawBand(g, lwpBand, sy, '#c09fbd', 1, 'lwp-uncertainty-band');
  const m = mk('path', { d: lineD(lwpSeries, sy), stroke: '#a52a2a', 'stroke-width': 9, fill: 'none', 'stroke-linejoin': 'round' }, g);
  
  
  const o = mk('path', { d: lineD(lwpSeries, sy), stroke: '#c86e36', 'stroke-width': 9, fill: 'none', 'stroke-linejoin': 'round' }, g);
  
  
  const b = mk('path', { d: lineD(lwpSeries, sy), stroke: BLUE, 'stroke-width': 9, fill: 'none', 'stroke-dasharray': '60 30', 'stroke-linejoin': 'round' }, g);
  
  
  drawAxes(1, lwpTickValues, lwpTickLabels);
})();

(function () {
  const sy = yScale(2);
  const g = panelGroup(2, 're-panel');
  drawBand(g, d98ReBand, sy, ORANGE, 0.2, 'd98-re-band');
  drawDots(g, d98ReDot, sy, ORANGE, 'd98-re-dot');
  drawCrosses(g, d98ReCross, sy, ORANGE, 'd98-re-marker');
  drawBand(g, zlwpReBand, sy, BLUE, 0.2, 'zlwp-re-band');
  drawDots(g, zlwpReDot, sy, BLUE, 'zlwp-re-dot');
  drawCrosses(g, zlwpReCross, sy, BLUE, 'zlwp-re-marker');
  drawAxes(2, reTickValues, reTickLabels);
})();

(function () {
  const sy = yScale(3);
  const g = panelGroup(3, 'nd-panel');
  drawBand(g, d98NdBand, sy, ORANGE, 0.2, 'd98-nd-band');
  drawDots(g, d98NdDot, sy, ORANGE, 'd98-nd-dot');
  drawCrosses(g, d98NdCross, sy, ORANGE, 'd98-nd-marker');
  drawBand(g, zlwpNdBand, sy, BLUE, 0.2, 'zlwp-nd-band');
  drawDots(g, zlwpNdDot, sy, BLUE, 'zlwp-nd-dot');
  drawCrosses(g, zlwpNdCross, sy, BLUE, 'zlwp-nd-marker');
  drawAxes(3, ndTickValues, ndTickLabels);
})();

(function () {
  const sy = yScale(4);
  const g = panelGroup(4, 'od-panel');
  drawBand(g, d98OdBand, sy, ORANGE, 0.2, 'd98-od-band');
  drawDots(g, d98OdDot, sy, ORANGE, 'd98-od-dot');
  drawCrosses(g, d98OdCross, sy, ORANGE, 'd98-od-marker');
  drawBand(g, zlwpOdBand, sy, BLUE, 0.2, 'zlwp-od-band');
  drawDots(g, zlwpOdDot, sy, BLUE, 'zlwp-od-dot');
  drawCrosses(g, zlwpOdCross, sy, BLUE, 'zlwp-od-marker');
  drawAxes(4, odTickValues, odTickLabels);
})();
</script>
</body>
</html>
